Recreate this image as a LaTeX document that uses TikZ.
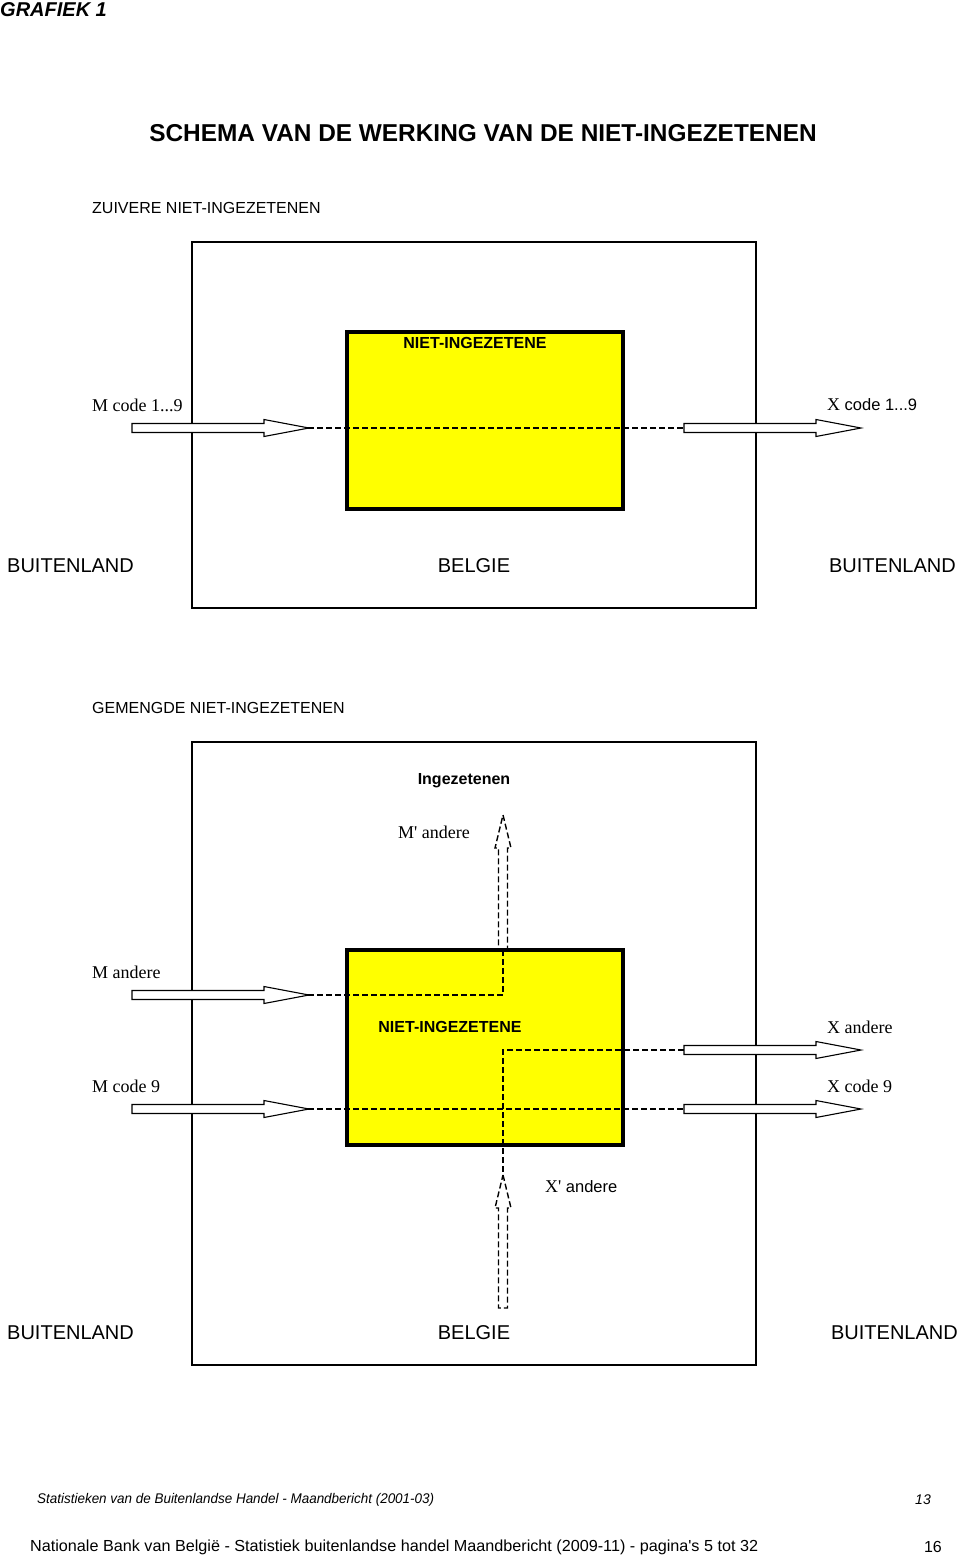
\documentclass[tikz,border=0pt]{standalone}
\usepackage{fontspec}
\usepackage{graphicx}
\setmainfont{Liberation Sans}[Ligatures=TeXOff]
\newfontfamily\tnr{Liberation Serif}[Ligatures=TeXOff]
\newcommand\fsz[1]{\fontsize{#1}{#1}\selectfont}
\definecolor{yel}{RGB}{255,255,0}
\tikzset{
  lbl/.style={inner sep=0pt, font=\fsz{16}},
  big/.style={inner sep=0pt, font=\fsz{20}},
  ser/.style={inner sep=0pt, font=\fsz{18}\tnr},
  outerbox/.style={line width=1.4pt},
  ybox/.style={line width=3.5pt, fill=yel},
  dline/.style={line width=1.6pt, dash pattern=on 6pt off 3pt},
  harrow/.pic={\draw[fill=white,line width=1.1pt,line join=miter]
      (0,-4.5) -- (132,-4.5) -- (132,-8.5) -- (177,0) -- (132,8.5) -- (132,4.5) -- (0,4.5) -- cycle;}
}
\newcommand\varrowpath[3]{% tip x, tip y, bottom y
  \draw[line width=1.4pt, dash pattern=on 6pt off 3pt]
    (#1,#2) -- (#1+8,#2+33) -- (#1+4.5,#2+33) -- (#1+4.5,#3) -- (#1-4.5,#3) -- (#1-4.5,#2+33) -- (#1-8,#2+33) -- cycle;}
\begin{document}
\begin{tikzpicture}[x=1pt,y=-1pt]
\useasboundingbox (0,0) rectangle (960,1559);
% header
\node[inner sep=0pt, anchor=west, font=\fsz{20}\bfseries\itshape] (graf) at (0,10) {GRAFIEK 1};
\node[inner sep=0pt, font=\fsz{24.4}\bfseries] (title) at (483,133) {SCHEMA VAN DE WERKING VAN DE NIET-INGEZETENEN};
% ---------- top diagram
\node[lbl, anchor=west] (zuiv) at (92,208) {ZUIVERE NIET-INGEZETENEN};
\draw[outerbox] (192,242) rectangle (756,608);
\draw[ybox] (347,332) rectangle (623,509);
\node[lbl, font=\fsz{16}\bfseries] (ni1) at (475,343) {NIET-INGEZETENE};
\node[ser, anchor=west] (mc1) at (92,405) {M code 1...9};
\node[ser, anchor=west] (xc1) at (827,405) {X {\fontspec{Liberation Sans}\fsz{16.5}code 1...9}};
\pic at (132,428) {harrow};
\pic at (684,428) {harrow};
\coordinate (a1) at (308,428);
\coordinate (b1) at (684,428);
\draw[dline] (a1) -- (b1);
\node[big, anchor=west] (bl1) at (7,566) {BUITENLAND};
\node[big] (be1) at (474,566) {BELGIE};
\node[big, anchor=east] (br1) at (956,566) {BUITENLAND};
% ---------- bottom diagram
\node[lbl, anchor=west] (gem) at (92,708) {GEMENGDE NIET-INGEZETENEN};
\draw[outerbox] (192,742) rectangle (756,1365);
\draw[ybox] (347,950) rectangle (623,1145);
\node[lbl, font=\fsz{16}\bfseries] (ing) at (464,781) {Ingezetenen};
\node[ser, anchor=west] (mp) at (398,832) {M' andere};
\node[ser, anchor=west] (ma) at (92,972) {M andere};
\node[lbl, font=\fsz{16}\bfseries] (ni2) at (450,1027) {NIET-INGEZETENE};
\node[ser, anchor=west] (xa) at (827,1027) {X andere};
\node[ser, anchor=west] (mc9) at (92,1086) {M code 9};
\node[ser, anchor=west] (xc9) at (827,1086) {X code 9};
\node[ser, anchor=west] (xp) at (545,1187) {X' {\fontspec{Liberation Sans}\fsz{16.5}andere}};
\pic at (132,995) {harrow};
\pic at (132,1109) {harrow};
\pic at (684,1050) {harrow};
\pic at (684,1109) {harrow};
\varrowpath{503}{815}{950}
\varrowpath{503}{1175}{1308}
\coordinate (a2) at (308,995);
\coordinate (c2) at (503,950);
\draw[dline] (a2) -| (c2);
\coordinate (b3) at (684,1050);
\coordinate (c3) at (503,1175);
\draw[dline] (b3) -| (c3);
\coordinate (a4) at (308,1109);
\coordinate (b4) at (684,1109);
\draw[dline] (a4) -- (b4);
\node[big, anchor=west] (bl2) at (7,1333) {BUITENLAND};
\node[big] (be2) at (474,1333) {BELGIE};
\node[big, anchor=east] (br2) at (958,1333) {BUITENLAND};
% footer
\node[inner sep=0pt, anchor=west, font=\fsz{14}\itshape] (f1) at (37,1500) {\resizebox{397pt}{\height}{Statistieken van de Buitenlandse Handel - Maandbericht (2001-03)}};
\node[inner sep=0pt, anchor=east, font=\fsz{14}\itshape] (f1n) at (931,1500) {13};
\node[inner sep=0pt, anchor=west, font=\fsz{16}] (f2) at (30,1547) {\resizebox{728pt}{\height}{Nationale Bank van België - Statistiek buitenlandse handel Maandbericht (2009-11) - pagina's 5 tot 32}};
\node[inner sep=0pt, anchor=east, font=\fsz{16}] (f2n) at (942,1547) {16};
\end{tikzpicture}
\end{document}
